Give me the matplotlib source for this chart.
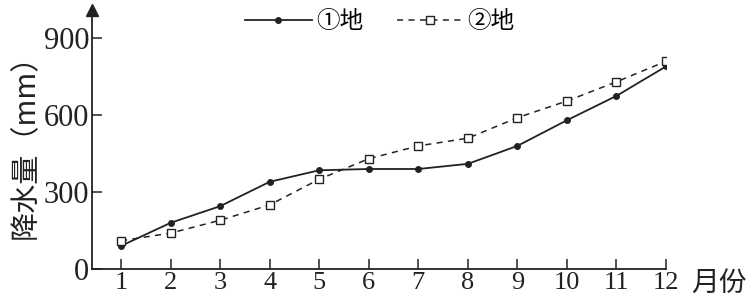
import matplotlib.pyplot as plt

months = list(range(1, 13))
site1 = [90, 180, 245, 340, 385, 390, 390, 410, 480, 580, 675, 790]
site2 = [110, 140, 190, 250, 350, 430, 480, 510, 590, 655, 730, 810]
yticks = [0, 300, 600, 900]

plt.rcParams['font.family'] = ['Liberation Serif', 'Noto Sans CJK SC']
ink = '#222222'

fig = plt.figure(figsize=(7.55, 3), dpi=100)
ax = fig.add_axes([92 / 755, 1 - 269 / 300, (666 - 92) / 755, (269 - 10) / 300])

ax.plot(months, site1, color=ink, lw=1.3, marker='o', ms=4, label='①地')
ax.plot(months, site2, color=ink, lw=1.1, ls=(0, (4, 3.5)), marker='s', ms=6,
        mfc='white', mec=ink, mew=1.0, label='②地')

ax.set_xlim(0.414, 12)
ax.set_ylim(0, 1010)
ax.set_xticks(months)
ax.set_yticks(yticks)
ax.tick_params(direction='in', length=7, width=1.1, colors=ink)
ax.tick_params(axis='x', labelsize=19, pad=2)
ax.tick_params(axis='y', labelsize=22, pad=2)
for s in ['top', 'right']:
    ax.spines[s].set_visible(False)
for s in ['left', 'bottom']:
    ax.spines[s].set_linewidth(1.3)
    ax.spines[s].set_color(ink)

# arrow at the top of the y axis
ax.plot(0, 1, marker='^', ms=9, color=ink, transform=ax.transAxes, clip_on=False)

ax.set_ylabel('降水量（mm）', fontsize=21, family=['Noto Sans CJK SC'], color=ink, labelpad=2)
fig.text(0.915, 1 - 283 / 300, '月份', fontsize=20, family=['Noto Sans CJK SC'],
         color=ink, ha='left', va='center')

ax.legend(loc='center', bbox_to_anchor=(380 / 755, 1 - 22 / 300), bbox_transform=fig.transFigure,
          ncol=2, frameon=False, fontsize=17, handlelength=2.8, columnspacing=1.4,
          handletextpad=0.2, borderpad=0)

fig.savefig('out.png', dpi=100)
